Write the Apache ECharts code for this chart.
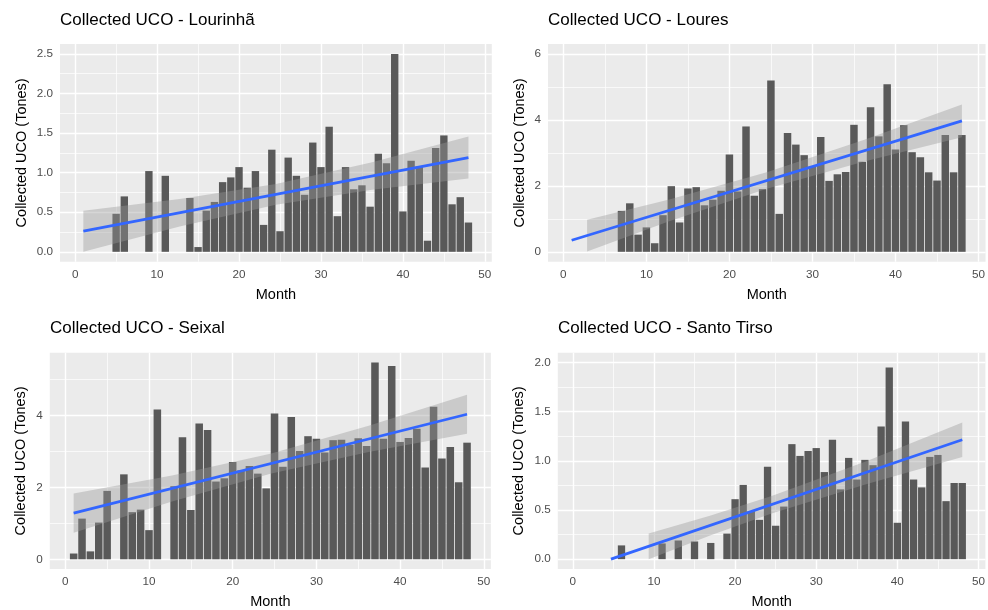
<!DOCTYPE html>
<html><head><meta charset="utf-8">
<script src="https://cdn.jsdelivr.net/npm/echarts@6/dist/echarts.min.js"></script>
<style>html,body{margin:0;padding:0;background:#fff}#c{width:988px;height:610px}</style>
</head><body><div id="c"></div>
<script>
// ---------------- data ----------------
const months = [1,2,3,4,5,6,7,8,9,10,11,12,13,14,15,16,17,18,19,20,21,22,23,24,25,26,27,28,29,30,31,32,33,34,35,36,37,38,39,40,41,42,43,44,45,46,47,48];

const lourinhaValues = [0,0,0,0,0.48,0.70,0,0,1.02,0,0.96,0,0,0.68,0.06,0.52,0.63,0.88,0.94,1.07,0.81,1.02,0.34,1.29,0.26,1.19,0.96,0.72,1.38,1.07,1.58,0.45,1.07,0.79,0.84,0.57,1.24,1.12,2.50,0.51,1.15,1.08,0.14,1.31,1.47,0.60,0.69,0.37];
const louresValues = [0,0,0,0,0,0,1.24,1.47,0.52,0.74,0.26,1.11,1.99,0.89,1.92,1.96,1.41,1.58,1.85,2.95,1.83,3.80,1.70,1.90,5.19,1.15,3.60,3.25,2.93,2.60,3.48,2.15,2.35,2.42,3.85,2.73,4.38,3.50,5.08,3.10,3.84,3.02,2.87,2.41,2.16,3.54,2.41,3.54];
const seixalValues = [0.16,1.13,0.22,1.02,1.90,0,2.36,1.31,1.38,0.81,4.16,0,2.03,3.39,1.37,3.77,3.59,2.16,2.25,2.70,2.47,2.59,2.38,1.97,4.05,2.57,3.95,3.01,3.42,3.35,2.97,3.31,3.32,3.18,3.36,3.15,5.47,3.35,5.37,3.26,3.37,3.63,2.55,4.24,2.80,3.12,2.14,3.24];
const santoTirsoValues = [0,0,0,0,0,0.14,0,0,0,0,0.16,0,0.19,0,0.18,0,0.165,0,0.26,0.61,0.755,0.49,0.40,0.94,0.34,0.535,1.17,1.05,1.10,1.13,0.886,1.215,0.71,1.03,0.81,1.01,0.956,1.35,1.95,0.37,1.40,0.81,0.73,1.04,1.06,0.59,0.775,0.775];

// fitted lines
const lourinhaFitX = [1, 48];   const lourinhaFitY = [0.26, 1.19];
const louresFitX = [1, 48];     const louresFitY = [0.35, 3.97];
const seixalFitX = [1, 48];     const seixalFitY = [1.28, 4.03];
const santoTirsoFitX = [4.7, 48]; const santoTirsoFitY = [0.0, 1.215];

// confidence bands
const lourinhaBandX = [1, 12.75, 24.5, 36.25, 48];
const lourinhaBandLow = [0.00, 0.32, 0.595, 0.785, 0.925];
const lourinhaBandHigh = [0.52, 0.666, 0.855, 1.131, 1.455];
const louresBandX = [2.86, 12.75, 24.5, 36.25, 48];
const louresBandLow = [0.01, 0.925, 1.91, 2.735, 3.475];
const louresBandHigh = [0.97, 1.585, 2.41, 3.395, 4.465];
const seixalBandX = [1, 12.75, 24.5, 36.25, 48];
const seixalBandLow = [0.735, 1.603, 2.379, 2.979, 3.485];
const seixalBandHigh = [1.825, 2.331, 2.931, 3.707, 4.575];
const santoTirsoBandX = [9.35, 17, 24.5, 36.25, 48];
const santoTirsoBandLow = [0.0, 0.244, 0.464, 0.764, 1.04];
const santoTirsoBandHigh = [0.262, 0.444, 0.642, 0.998, 1.39];

// titles and ticks
const panelTitles = ['Collected UCO - Lourinhã', 'Collected UCO - Loures', 'Collected UCO - Seixal', 'Collected UCO - Santo Tirso'];
const xAxisTitle = 'Month';
const yAxisTitle = 'Collected UCO (Tones)';
const xTicks = [0, 10, 20, 30, 40, 50];
const xMinorTicks = [5, 15, 25, 35, 45];
const lourinhaYTicks = [0, 0.5, 1, 1.5, 2, 2.5];
const lourinhaYMinor = [0.25, 0.75, 1.25, 1.75, 2.25];
const louresYTicks = [0, 2, 4, 6];
const louresYMinor = [1, 3, 5];
const seixalYTicks = [0, 2, 4];
const seixalYMinor = [1, 3, 5];
const santoTirsoYTicks = [0, 0.5, 1, 1.5, 2];
const santoTirsoYMinor = [0.25, 0.75, 1.25, 1.75];

// ---------------- layout ----------------
const BAR_WIDTH = 0.9; // in months (ggplot geom_col default)
const panels = [
  {title: panelTitles[0], values: lourinhaValues, fitX: lourinhaFitX, fitY: lourinhaFitY,
   bx: lourinhaBandX, bl: lourinhaBandLow, bh: lourinhaBandHigh, yTicks: lourinhaYTicks, yMinor: lourinhaYMinor,
   ymin: -0.125, ymax: 2.625, dec: 1,
   grid: {left: 60, top: 44, width: 431.8, height: 217.7}, titlePos: {left: 60, top: 12}, yGap: 31, xGap: 26},
  {title: panelTitles[1], values: louresValues, fitX: louresFitX, fitY: louresFitY,
   bx: louresBandX, bl: louresBandLow, bh: louresBandHigh, yTicks: louresYTicks, yMinor: louresYMinor,
   ymin: -0.3, ymax: 6.3, dec: 0,
   grid: {left: 548, top: 44, width: 442.7, height: 217.7}, titlePos: {left: 548, top: 12}, yGap: 21, xGap: 26},
  {title: panelTitles[2], values: seixalValues, fitX: seixalFitX, fitY: seixalFitY,
   bx: seixalBandX, bl: seixalBandLow, bh: seixalBandHigh, yTicks: seixalYTicks, yMinor: seixalYMinor,
   ymin: -0.27, ymax: 5.74, dec: 0,
   grid: {left: 49.8, top: 352.7, width: 441.1, height: 216.6}, titlePos: {left: 50, top: 320}, yGap: 21, xGap: 25},
  {title: panelTitles[3], values: santoTirsoValues, fitX: santoTirsoFitX, fitY: santoTirsoFitY,
   bx: santoTirsoBandX, bl: santoTirsoBandLow, bh: santoTirsoBandHigh, yTicks: santoTirsoYTicks, yMinor: santoTirsoYMinor,
   ymin: -0.1, ymax: 2.1, dec: 1,
   grid: {left: 557.8, top: 352.7, width: 431.6, height: 216.6}, titlePos: {left: 558, top: 320}, yGap: 31, xGap: 25}
];

const FONT = 'Liberation Sans, Arial, sans-serif';
const option = {animation: false, backgroundColor: '#ffffff', title: [], grid: [], xAxis: [], yAxis: [], series: []};

panels.forEach((p, i) => {
  option.title.push({text: p.title, left: p.titlePos.left, top: p.titlePos.top, padding: 0,
    textStyle: {fontFamily: FONT, fontSize: 17, fontWeight: 'normal', color: '#000'}});
  option.grid.push(Object.assign({show: true, backgroundColor: '#EBEBEB', borderWidth: 0, containLabel: false}, p.grid));
  option.xAxis.push({type: 'value', gridIndex: i, min: -1.85, max: 50.85,
    name: xAxisTitle, nameLocation: 'middle', nameGap: p.xGap,
    nameTextStyle: {fontFamily: FONT, fontSize: 14.5, color: '#000'},
    axisLine: {show: false}, splitLine: {show: false},
    axisTick: {show: true, length: 4, customValues: xTicks, lineStyle: {color: '#333333', width: 1}},
    axisLabel: {customValues: xTicks, margin: 7, fontFamily: FONT, fontSize: 11.7, color: '#4D4D4D'}});
  option.yAxis.push({type: 'value', gridIndex: i, min: p.ymin, max: p.ymax,
    name: yAxisTitle, nameLocation: 'middle', nameGap: p.yGap, nameRotate: 90,
    nameTextStyle: {fontFamily: FONT, fontSize: 14.5, color: '#000'},
    axisLine: {show: false}, splitLine: {show: false},
    axisTick: {show: true, length: 4, customValues: p.yTicks, lineStyle: {color: '#333333', width: 1}},
    axisLabel: {customValues: p.yTicks, margin: 7, fontFamily: FONT, fontSize: 11.7, color: '#4D4D4D',
      formatter: v => Number(v).toFixed(p.dec)}});

  const major = {color: '#FFFFFF', width: 1.4, type: 'solid'};
  const minor = {color: '#FFFFFF', width: 0.7, type: 'solid'};
  const gridLines = [];
  xTicks.forEach(v => gridLines.push({xAxis: v, lineStyle: major}));
  xMinorTicks.forEach(v => gridLines.push({xAxis: v, lineStyle: minor}));
  p.yTicks.forEach(v => gridLines.push({yAxis: v, lineStyle: major}));
  p.yMinor.forEach(v => gridLines.push({yAxis: v, lineStyle: minor}));

  // bars: rectangles 0.9 month wide, via the axis scales
  option.series.push({type: 'custom', xAxisIndex: i, yAxisIndex: i, z: 2, silent: true,
    data: months.map((m, k) => [m, p.values[k]]),
    encode: {x: 0, y: 1},
    renderItem: function (params, api) {
      const x = api.value(0), y = api.value(1);
      if (!y) return null;
      const a = api.coord([x - BAR_WIDTH / 2, y]);
      const b = api.coord([x + BAR_WIDTH / 2, 0]);
      return {type: 'rect', shape: {x: a[0], y: a[1], width: b[0] - a[0], height: b[1] - a[1]},
        style: {fill: '#595959'}};
    },
    markLine: {silent: true, symbol: ['none', 'none'], z: 1, label: {show: false}, animation: false,
      emphasis: {disabled: true}, data: gridLines}});

  option.series.push({type: 'custom', xAxisIndex: i, yAxisIndex: i, z: 3, silent: true,
    data: p.bx.map((x, k) => [x, p.bl[k], p.bh[k]]),
    encode: {x: 0, y: [1, 2]},
    renderItem: function (params, api) {
      if (params.dataIndex !== 0) return null;
      const pts = [];
      for (let k = 0; k < p.bx.length; k++) pts.push(api.coord([p.bx[k], p.bh[k]]));
      for (let k = p.bx.length - 1; k >= 0; k--) pts.push(api.coord([p.bx[k], p.bl[k]]));
      return {type: 'polygon', shape: {points: pts}, style: {fill: 'rgba(153,153,153,0.4)'}};
    }});

  option.series.push({type: 'line', xAxisIndex: i, yAxisIndex: i, z: 4, silent: true,
    data: p.fitX.map((x, k) => [x, p.fitY[k]]), showSymbol: false, symbol: 'none',
    lineStyle: {color: '#3366FF', width: 2.8}});
});

const chart = echarts.init(document.getElementById('c'), null, {renderer: 'canvas'});
chart.setOption(option);
</script></body></html>
